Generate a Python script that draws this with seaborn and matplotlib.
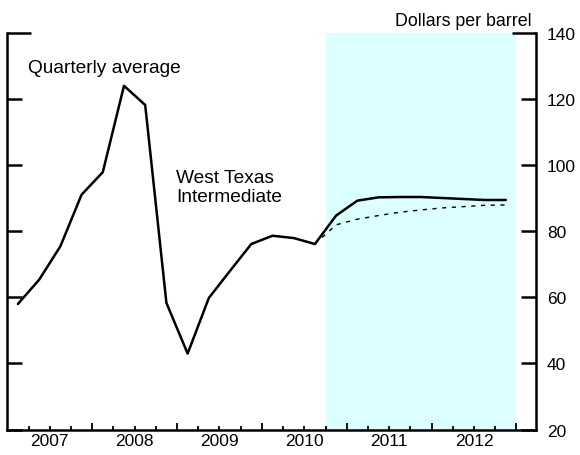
import pandas as pd
import seaborn as sns
import matplotlib.pyplot as plt
import numpy as np

# quarterly WTI prices, 2007Q1 - 2012Q4 (dollars per barrel)
years = [2007, 2008, 2009, 2010, 2011, 2012]
wti = [58.0, 65.3, 75.4, 91.0,
       97.8, 123.9, 118.1, 58.3,
       43.0, 59.8, 68.0, 76.1,
       78.6, 77.9, 76.1, 84.7,
       89.2, 90.2, 90.3, 90.3,
       90.0, 89.7, 89.4, 89.4]
# earlier path, starting from 2010Q3
alt_path = [76.1, 81.9, 83.6, 84.7, 85.7, 86.4, 87.0, 87.4, 87.8, 87.9]
y_ticks = [20, 40, 60, 80, 100, 120, 140]
shade_from, shade_to = 2010.75, 2013.0

# quarter midpoints as decimal years
quarters = [y + (q + 0.5) / 4 for y in years for q in range(4)]
df = pd.DataFrame({'date': quarters, 'price': wti})
df_alt = pd.DataFrame({'date': quarters[-len(alt_path):], 'price': alt_path})

sns.set_style('white')
plt.rcParams['font.family'] = ['Liberation Sans', 'DejaVu Sans']
plt.rcParams['text.color'] = 'black'
plt.rcParams['xtick.color'] = 'black'
plt.rcParams['ytick.color'] = 'black'

fig = plt.figure(figsize=(5.8, 4.56), dpi=100)
ax = fig.add_axes([0.0126, 0.0555, 0.9115, 0.871])

ax.axvspan(shade_from, shade_to, color='#dcffff', lw=0, zorder=0)
sns.lineplot(data=df_alt, x='date', y='price', ax=ax, color='black', lw=1.0,
             dashes=False, linestyle=(0, (3, 4)))
sns.lineplot(data=df, x='date', y='price', ax=ax, color='black', lw=1.8)

ax.set_xlim(2007.0, 2013.23)
ax.set_ylim(20, 140)
ax.set_xlabel('')
ax.set_ylabel('')

for s in ['left', 'right', 'bottom']:
    ax.spines[s].set_visible(True)
    ax.spines[s].set_color('black')
    ax.spines[s].set_linewidth(1.8)
ax.spines['top'].set_visible(False)

# x: long ticks at year boundaries, short at quarters, year label mid-year
ax.set_xticks([y + 1 for y in years], labels=[''] * len(years))
q_ticks = [y + q / 4 for y in years for q in (1, 2, 3)]
q_labels = [str(y) if q == 2 else '' for y in years for q in (1, 2, 3)]
ax.set_xticks(q_ticks, labels=q_labels, minor=True)
ax.tick_params(axis='x', which='major', direction='in', length=5, width=1.3,
               bottom=True, top=False)
ax.tick_params(axis='x', which='minor', direction='in', length=3, width=1.3,
               bottom=True, top=False, labelsize=12.5, pad=2.5)

ax.set_yticks(y_ticks)
ax.tick_params(axis='y', direction='in', length=11, width=1.8, left=True,
               right=True, labelleft=False, labelright=True, labelsize=12.5,
               pad=8)
top_tick = ax.yaxis.get_major_ticks()[-1]
top_tick.tick1line.set_markersize(17)
top_tick.tick2line.set_markersize(17)

ax.text(2007.246, 128.2, 'Quarterly average', fontsize=13.8, va='baseline')
ax.text(2008.99, 89.1, 'West Texas\nIntermediate', fontsize=13.8,
        va='baseline', linespacing=1.15)
fig.text(0.917, 0.943, 'Dollars per barrel', fontsize=12.8, ha='right',
         va='baseline')

fig.savefig('out.png', dpi=100)
